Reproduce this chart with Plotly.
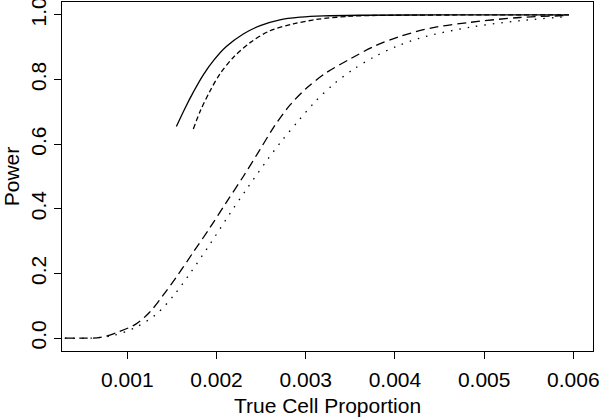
"""
Power curves against true cell proportion (R base-graphics look).
"""

import plotly.graph_objects as go

# --- data ---
solid_x = [0.00155, 0.00165, 0.00174, 0.00185, 0.00197, 0.00211, 0.0023, 0.00249,
           0.00271, 0.00294, 0.0032, 0.0036, 0.0045, 0.00595]
solid_y = [0.655, 0.713, 0.761, 0.814, 0.86, 0.902, 0.941, 0.967,
           0.985, 0.993, 0.997, 0.999, 1.0, 1.0]

shortdash_x = [0.00174, 0.00182, 0.00193, 0.00204, 0.00219, 0.00238, 0.0026, 0.00286,
               0.00312, 0.0035, 0.004, 0.005, 0.00595]
shortdash_y = [0.647, 0.704, 0.766, 0.818, 0.869, 0.915, 0.951, 0.972,
               0.986, 0.996, 0.999, 1.0, 1.0]

longdash_x = [0.0003, 0.0005, 0.0007, 0.0009, 0.0011, 0.00125, 0.0014, 0.00155,
              0.00174, 0.00193, 0.00211, 0.0023, 0.00248, 0.00264, 0.00282, 0.00301,
              0.00324, 0.0035, 0.00376, 0.00406, 0.00443, 0.00484, 0.0054, 0.00595]
longdash_y = [0.0, 0.0, 0.002, 0.019, 0.044, 0.08, 0.132, 0.189,
              0.266, 0.343, 0.42, 0.5, 0.58, 0.652, 0.72, 0.774,
              0.823, 0.864, 0.902, 0.934, 0.961, 0.977, 0.992, 0.998]

dotted_x = [0.0003, 0.0006, 0.00084, 0.0011, 0.00133, 0.00152, 0.0017, 0.00193,
            0.00215, 0.00234, 0.00256, 0.00273, 0.00292, 0.0031, 0.00331, 0.00353,
            0.00378, 0.00402, 0.0043, 0.00484, 0.0054, 0.00595]
dotted_y = [0.0, 0.0, 0.008, 0.034, 0.075, 0.132, 0.199, 0.292,
            0.385, 0.462, 0.548, 0.61, 0.673, 0.73, 0.785, 0.831,
            0.872, 0.903, 0.93, 0.962, 0.982, 0.995]

x_ticks = [0.001, 0.002, 0.003, 0.004, 0.005, 0.006]
x_ticktext = ["0.001", "0.002", "0.003", "0.004", "0.005", "0.006"]
y_ticks = [0.0, 0.2, 0.4, 0.6, 0.8, 1.0]
y_ticktext = ["0.0", "0.2", "0.4", "0.6", "0.8", "1.0"]

FONT = "Liberation Sans, Arial, Helvetica, sans-serif"

fig = go.Figure()
for xs, ys, dash in [
    (solid_x, solid_y, "solid"),
    (shortdash_x, shortdash_y, "5px,3px"),
    (longdash_x, longdash_y, "9px,5px"),
    (dotted_x, dotted_y, "1.5px,7px"),
]:
    fig.add_trace(go.Scatter(
        x=xs, y=ys, mode="lines",
        line=dict(color="black", width=1.3, dash=dash, shape="spline", smoothing=0.9),
        hoverinfo="skip",
    ))

axis_common = dict(
    showline=True, mirror=True, linecolor="black", linewidth=1,
    showgrid=False, zeroline=False, automargin=False,
    ticks="outside", ticklen=7, tickcolor="black", tickwidth=1,
    ticklabeloverflow="allow",
    tickfont=dict(family=FONT, size=21, color="black"),
)

fig.update_layout(
    width=600, height=419,
    margin=dict(l=62, r=7, t=2, b=68),
    paper_bgcolor="white", plot_bgcolor="white",
    showlegend=False,
    font=dict(family=FONT, size=21, color="black"),
    xaxis=dict(
        range=[0.000268, 0.00622],
        tickvals=x_ticks, ticktext=x_ticktext,
        ticklabelstandoff=3,
        title=dict(text="True Cell Proportion", font=dict(family=FONT, size=21), standoff=8),
        **axis_common,
    ),
    yaxis=dict(
        range=[-0.04, 1.04],
        tickvals=y_ticks, ticktext=y_ticktext, tickangle=-90,
        title=dict(text="Power", font=dict(family=FONT, size=21), standoff=6),
        **axis_common,
    ),
)

# the page body has a default 8px margin; drop it so the figure sits at the corner
fig.write_html(
    "out.html",
    config={"displayModeBar": False},
    post_script="document.body.style.margin='0';",
)
